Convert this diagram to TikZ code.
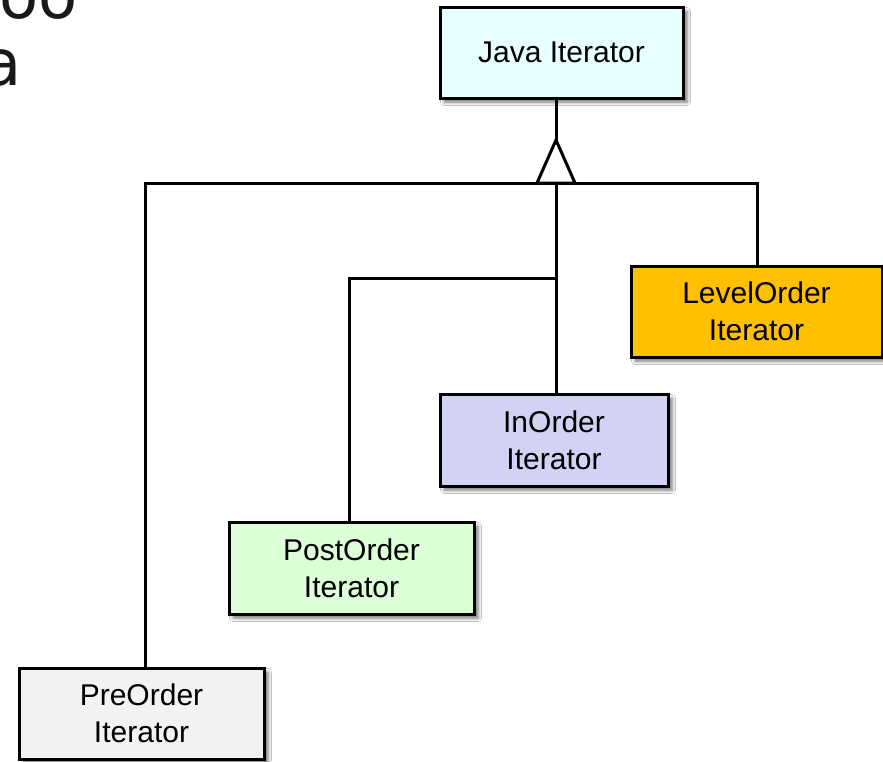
\documentclass[tikz,border=0pt]{standalone}
\usepackage{fontspec}
\setmainfont{Liberation Sans}
\newfontfamily\headfont{DejaVu Sans}
\usetikzlibrary{shadows.blur}
\definecolor{javafill}{HTML}{E8FFFF}
\definecolor{levelfill}{HTML}{FFC000}
\definecolor{infill}{HTML}{D2D2F4}
\definecolor{postfill}{HTML}{DCFFD8}
\definecolor{prefill}{HTML}{F2F2F2}
\tikzset{
  classbox/.style={draw=black, line width=3pt, align=center, inner sep=0pt,
    font=\fontsize{30}{37}\selectfont,
    blur shadow={shadow xshift=4pt, shadow yshift=-4pt, shadow blur radius=3.5pt, shadow opacity=55}},
  wire/.style={line width=3pt, line join=miter},
  titletext/.style={inner sep=0pt, font=\headfont\fontsize{64}{64}\selectfont, text=black!90}
}
\begin{document}
\begin{tikzpicture}[x=1pt, y=-1pt]
  \useasboundingbox (0,0) rectangle (883,761);
  \clip (0,0) rectangle (883,761);
  \fill[white] (0,0) rectangle (883,761);

  % fragments of a heading that runs off the left edge
  \node[titletext, anchor=base east] (headA) at (78,18) {oo};
  \node[titletext, anchor=base east] (headB) at (22,85) {a};

  % class boxes
  \node[classbox, fill=javafill, minimum width=243pt, minimum height=91pt] (java) at (561.5,52.5) {Java Iterator};
  \node[classbox, fill=levelfill, minimum width=251pt, minimum height=91pt] (level) at (756.5,311.5) {LevelOrder\\Iterator};
  \node[classbox, fill=infill, minimum width=228pt, minimum height=92pt] (inord) at (554,440) {InOrder\\Iterator};
  \node[classbox, fill=postfill, minimum width=245pt, minimum height=92pt] (post) at (351.5,568) {PostOrder\\Iterator};
  \node[classbox, fill=prefill, minimum width=245pt, minimum height=91pt] (pre) at (141.5,713.5) {PreOrder\\Iterator};

  % generalisation connectors
  \coordinate (apex) at (556,140);
  \coordinate (baseL) at (537,183);
  \coordinate (baseR) at (575,183);
  \coordinate (baseM) at (556,183);
  \coordinate (branch) at (556,278);

  \draw[wire] (java.south -| apex) -- (apex);
  \draw[wire] (pre.north -| 145,0) -- (145,183) -- (757,183) -- (level.north -| 757,0);
  \draw[wire] (baseM) -- (inord.north -| baseM);
  \draw[wire] (branch) -- (349,278) -- (post.north -| 349,0);
  \draw[wire, fill=white] (apex) -- (baseR) -- (baseL) -- cycle;
\end{tikzpicture}
\end{document}
